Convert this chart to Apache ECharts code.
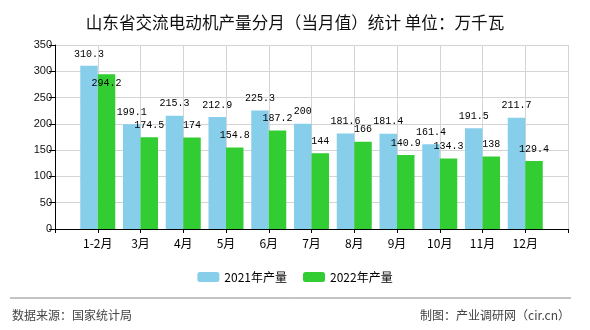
<!DOCTYPE html>
<html><head><meta charset="utf-8">
<script src="https://cdn.jsdelivr.net/npm/echarts@6/dist/echarts.min.js"></script>
<style>html,body{margin:0;padding:0;background:#fff}#c{width:590px;height:330px}</style>
</head><body><div id="c"></div>
<script>
var categories = ['1-2月','3月','4月','5月','6月','7月','8月','9月','10月','11月','12月'];
var values2021 = [310.3,199.1,215.3,212.9,225.3,200,181.6,181.4,161.4,191.5,211.7];
var values2022 = [294.2,174.5,174,154.8,187.2,144,166,140.9,134.3,138,129.4];
var seriesNames = ['2021年产量','2022年产量'];
var yTicks = {min:0,max:350,interval:50};

var axisCats = [''].concat(categories).concat(['']);
function pad(arr){ return [null].concat(arr).concat([null]); }
var numFont = '"Liberation Mono","Noto Sans CJK SC",monospace';
var cjkFont = '"Noto Sans CJK SC","Liberation Mono",sans-serif';
var d2022 = pad(values2022).map(function(v,i){
  if(i===1) return {value:v,label:{position:'insideTop',distance:4}};
  return v;
});
var chart = echarts.init(document.getElementById('c'));
chart.setOption({
  animation:false,
  backgroundColor:'#fff',
  title:{text:'山东省交流电动机产量分月（当月值）统计 单位：万千瓦',left:'center',top:9,
    textStyle:{fontSize:16.6,fontWeight:'normal',color:'#111',fontFamily:cjkFont}},
  grid:{left:55,right:22,top:45,bottom:101},
  legend:{bottom:42,left:'center',itemWidth:22,itemHeight:10,itemGap:16,
    textStyle:{fontSize:12,color:'#000',fontFamily:cjkFont},
    data:seriesNames},
  xAxis:{type:'category',data:axisCats,boundaryGap:false,
    axisLine:{lineStyle:{color:'#000'}},
    axisTick:{show:true,length:4,lineStyle:{color:'#000'}},
    axisLabel:{color:'#000',fontSize:12,margin:8,fontFamily:cjkFont,interval:0},
    splitLine:{show:true,lineStyle:{color:'#d4d4d4'}}},
  yAxis:{type:'value',min:yTicks.min,max:yTicks.max,interval:yTicks.interval,
    axisLine:{show:true,lineStyle:{color:'#000'}},
    axisTick:{show:true,length:6,lineStyle:{color:'#000'}},
    axisLabel:{color:'#111',fontSize:11,margin:3,fontFamily:'"Liberation Sans",Arial,sans-serif'},
    splitLine:{show:true,lineStyle:{color:'#d4d4d4'}}},
  series:[
    {name:seriesNames[0],type:'bar',data:pad(values2021),barWidth:17.5,barGap:'0%',
      itemStyle:{color:'#87CEEB'},
      label:{show:true,position:'top',distance:7,color:'#000',fontSize:10,fontFamily:numFont}},
    {name:seriesNames[1],type:'bar',data:d2022,barWidth:17.5,barGap:'0%',
      itemStyle:{color:'#32CD32'},
      label:{show:true,position:'top',distance:7,color:'#000',fontSize:10,fontFamily:numFont}}
  ],
  graphic:[
    {type:'line',shape:{x1:10,y1:298,x2:571,y2:298},style:{stroke:'#888',lineWidth:1}},
    {type:'text',left:12,top:309,style:{text:'数据来源：国家统计局',fill:'#444',font:'12px "Noto Sans CJK SC"'}},
    {type:'text',right:20,top:309,style:{text:'制图：产业调研网（cir.cn）',fill:'#444',font:'12px "Noto Sans CJK SC"'}}
  ]
});
</script></body></html>
